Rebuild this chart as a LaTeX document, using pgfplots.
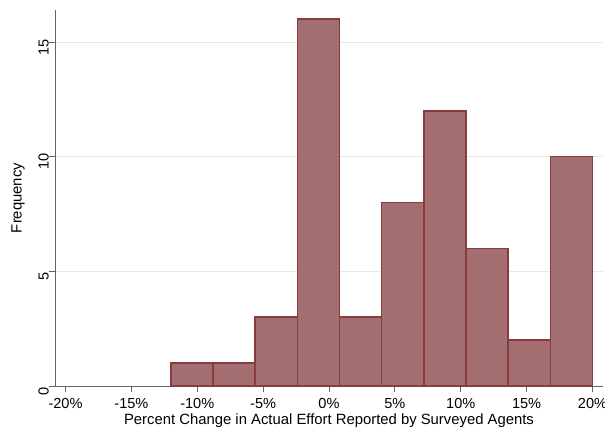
\documentclass[border=0pt]{standalone}
\usepackage{fontspec}
\setmainfont{Liberation Sans}
\usepackage{pgfplots}
\pgfplotsset{compat=1.18}
\definecolor{barfill}{RGB}{163,110,112}
\definecolor{baredge}{RGB}{136,60,64}
\definecolor{gridc}{RGB}{232,232,232}
\definecolor{axc}{RGB}{100,100,100}
\begin{document}
\fontsize{14.5}{17}\selectfont
\begin{tikzpicture}[x=1bp,y=1bp]
\useasboundingbox (-55,-44) rectangle (550,386);
\begin{axis}[
  at={(0,0)}, anchor=south west,
  scale only axis, width=548bp, height=376bp,
  xmin=-20.8, xmax=20.8, ymin=0, ymax=16.4,
  axis lines*=left,
  axis line style={axc, line width=0.9pt},
  tick style={axc, line width=0.8pt},
  tick align=outside, major tick length=6bp,
  xtick={-20,-15,-10,-5,0,5,10,15,20},
  xticklabels={-20\%,-15\%,-10\%,-5\%,0\%,5\%,10\%,15\%,20\%},
  ytick={0,5,10,15},
  ymajorgrids, grid style={gridc, line width=0.8pt},
  /pgf/number format/assume math mode=true,
  ticklabel style={font=\fontsize{14.6}{17}\selectfont},
  label style={font=\fontsize{14.9}{17}\selectfont},
  yticklabel style={rotate=90, anchor=south, inner sep=0pt, xshift=-5bp},
  xticklabel style={inner sep=0pt, yshift=-6.5bp},
  xlabel={Percent Change in Actual Effort Reported by Surveyed Agents},
  ylabel={Frequency},
  xlabel style={at={(axis description cs:0.5,0)}, anchor=north, yshift=-28bp, inner sep=0pt},
  ylabel style={at={(axis description cs:0,0.5)}, anchor=south, rotate=0, yshift=30bp, inner sep=0pt},
  clip=false,
]
\addplot[ybar interval, fill=barfill, draw=baredge, line width=1.5pt] coordinates {
(-12,1) (-8.8,1) (-5.6,3) (-2.4,16) (0.8,3) (4.0,8) (7.2,12) (10.4,6) (13.6,2) (16.8,10) (20,10)
};
\end{axis}
\end{tikzpicture}
\end{document}
